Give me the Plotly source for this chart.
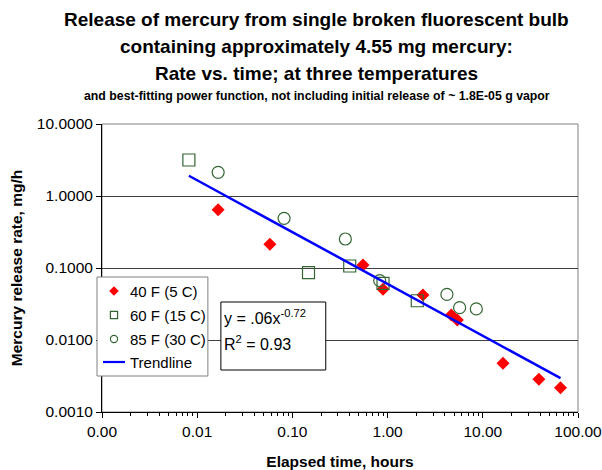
import plotly.graph_objects as go

# ---- data ----
T40_X = [0.0166, 0.058, 0.552, 0.895, 2.35, 4.67, 5.4, 16.3, 38.8, 65.5]
T40_Y = [0.645, 0.213, 0.110, 0.0506, 0.0422, 0.0222, 0.019, 0.00475, 0.00284, 0.00218]
T60_X = [0.00818, 0.1476, 0.40, 0.895, 2.05]
T60_Y = [3.16, 0.086, 0.1066, 0.0613, 0.0351]
T85_X = [0.0166, 0.0818, 0.36, 0.826, 4.2, 5.71, 8.55]
T85_Y = [2.13, 0.49, 0.253, 0.0667, 0.043, 0.0281, 0.027]
TREND_A = 0.06
TREND_B = -0.72

SERIES_NAMES = ["40 F (5 C)", "60 F (15 C)", "85 F (30 C)", "Trendline"]
X_TICKVALS = [0.001, 0.01, 0.1, 1, 10, 100]
X_TICKTEXT = ["0.00", "0.01", "0.10", "1.00", "10.00", "100.00"]
Y_TICKVALS = [0.001, 0.01, 0.1, 1, 10]
Y_TICKTEXT = ["0.0010", "0.0100", "0.1000", "1.0000", "10.0000"]

FONT = "Liberation Sans, Arial, sans-serif"
RED = "#FF0000"
GREEN = "#336633"
BLUE = "#0000FF"

all_x = T40_X + T60_X + T85_X
tx = [min(all_x), max(all_x)]
ty = [TREND_A * v ** TREND_B for v in tx]

W, H = 602, 470
L, R, T, B = 102, 23.5, 124, 58
PW = W - L - R
PH = H - T - B


def px(x):
    return (x - L) / PW


def py(y):
    return (H - B - y) / PH


fig = go.Figure()
fig.add_trace(go.Scatter(x=T40_X, y=T40_Y, mode="markers", name=SERIES_NAMES[0],
                         marker=dict(symbol="diamond", size=10, color=RED, line=dict(width=0))))
fig.add_trace(go.Scatter(x=T60_X, y=T60_Y, mode="markers", name=SERIES_NAMES[1],
                         marker=dict(symbol="square-open", size=12, color=GREEN,
                                     line=dict(width=1.2, color=GREEN))))
fig.add_trace(go.Scatter(x=T85_X, y=T85_Y, mode="markers", name=SERIES_NAMES[2],
                         marker=dict(symbol="circle-open", size=12, color=GREEN,
                                     line=dict(width=1.2, color=GREEN))))
fig.add_trace(go.Scatter(x=tx, y=ty, mode="lines", name=SERIES_NAMES[3],
                         line=dict(color=BLUE, width=2.5)))

annotations = []
title_lines = [
    ("Release of mercury from single broken fluorescent bulb", 20, 19),
    ("containing approximately 4.55 mg mercury:", 46, 19),
    ("Rate vs. time; at three temperatures", 73, 19),
    ("and best-fitting power function, not including initial release of ~ 1.8E-05 g vapor", 96, 12.3),
]
for txt, yy, fs in title_lines:
    annotations.append(dict(text="<b>" + txt + "</b>", xref="paper", yref="paper",
                            x=px(317), y=py(yy), xanchor="center", yanchor="middle",
                            showarrow=False, font=dict(size=fs, family=FONT, color="black")))

shapes = []
# ---- legend box (drawn by hand to match the reference layout) ----
shapes.append(dict(type="rect", xref="paper", yref="paper", layer="above",
                   x0=px(97), x1=px(208), y0=py(376), y1=py(277),
                   line=dict(color="#808080", width=1), fillcolor="white"))
rows = [291, 315, 339, 362]
sx = 114
# diamond
d = 4.8
r0 = rows[0]
shapes.append(dict(type="path", xref="paper", yref="paper", layer="above",
                   path=f"M {px(sx)},{py(r0-d)} L {px(sx+d)},{py(r0)} L {px(sx)},{py(r0+d)} L {px(sx-d)},{py(r0)} Z",
                   fillcolor=RED, line=dict(width=0)))
# square
s = 3.6
shapes.append(dict(type="rect", xref="paper", yref="paper", layer="above",
                   x0=px(sx - s), x1=px(sx + s), y0=py(rows[1] + s), y1=py(rows[1] - s),
                   line=dict(color=GREEN, width=1.2), fillcolor="rgba(0,0,0,0)"))
# circle
shapes.append(dict(type="circle", xref="paper", yref="paper", layer="above",
                   x0=px(sx - s), x1=px(sx + s), y0=py(rows[2] + s), y1=py(rows[2] - s),
                   line=dict(color=GREEN, width=1.2), fillcolor="rgba(0,0,0,0)"))
# line
shapes.append(dict(type="line", xref="paper", yref="paper", layer="above",
                   x0=px(103), x1=px(125), y0=py(rows[3]), y1=py(rows[3]),
                   line=dict(color=BLUE, width=2.2)))
for name, yy in zip(SERIES_NAMES, rows):
    annotations.append(dict(text=name, xref="paper", yref="paper", x=px(128), y=py(yy),
                            xanchor="left", yanchor="middle", showarrow=False,
                            font=dict(size=15, family=FONT, color="black")))

# ---- trendline equation box ----
shapes.append(dict(type="rect", xref="paper", yref="paper", layer="above",
                   x0=px(221), x1=px(326), y0=py(370), y1=py(302),
                   line=dict(color="black", width=1), fillcolor="white"))
annotations.append(dict(text="y = .06x<sup>-0.72</sup>", xref="paper", yref="paper",
                        x=px(222), y=py(317), xanchor="left", yanchor="middle", showarrow=False,
                        font=dict(size=16, family=FONT, color="black")))
annotations.append(dict(text="R<sup>2</sup> = 0.93", xref="paper", yref="paper",
                        x=px(222), y=py(343), xanchor="left", yanchor="middle", showarrow=False,
                        font=dict(size=16, family=FONT, color="black")))

# plot-area border (gray)
shapes.insert(0, dict(type="rect", xref="paper", yref="paper", x0=0, x1=1, y0=0, y1=1,
                      line=dict(color="#808080", width=1), layer="below"))

fig.update_layout(
    width=W, height=H,
    margin=dict(l=L, r=R, t=T, b=B, autoexpand=False),
    paper_bgcolor="white", plot_bgcolor="white",
    font=dict(family=FONT, size=15, color="black"),
    showlegend=False,
    annotations=annotations,
    shapes=shapes,
)

fig.update_xaxes(type="log", range=[-3, 2], tickvals=X_TICKVALS, ticktext=X_TICKTEXT,
                 showgrid=False, zeroline=False, showline=True, linecolor="black", linewidth=1,
                 ticks="outside", ticklen=5, tickcolor="black", ticklabeloverflow="allow",
                 tickfont=dict(size=15.5, family=FONT, color="black"),
                 minor=dict(ticks="outside", ticklen=3, tickcolor="black", dtick="D1", showgrid=False),
                 title=dict(text="<b>Elapsed time, hours</b>",
                            font=dict(size=15.5, family=FONT, color="black"), standoff=17))
fig.update_yaxes(type="log", range=[-3, 1], tickvals=Y_TICKVALS, ticktext=Y_TICKTEXT,
                 showgrid=True, gridcolor="#404040", gridwidth=1, zeroline=False,
                 showline=True, linecolor="black", linewidth=1,
                 ticks="outside", ticklen=5, tickcolor="black", ticklabeloverflow="allow",
                 tickfont=dict(size=15.5, family=FONT, color="black"),
                 title=dict(text="<b>Mercury release rate, mg/h</b>",
                            font=dict(size=15.5, family=FONT, color="black"), standoff=10))

fig.write_html("out.html", config={"displayModeBar": False},
               post_script="document.body.style.margin='0';document.body.style.overflow='hidden';")
